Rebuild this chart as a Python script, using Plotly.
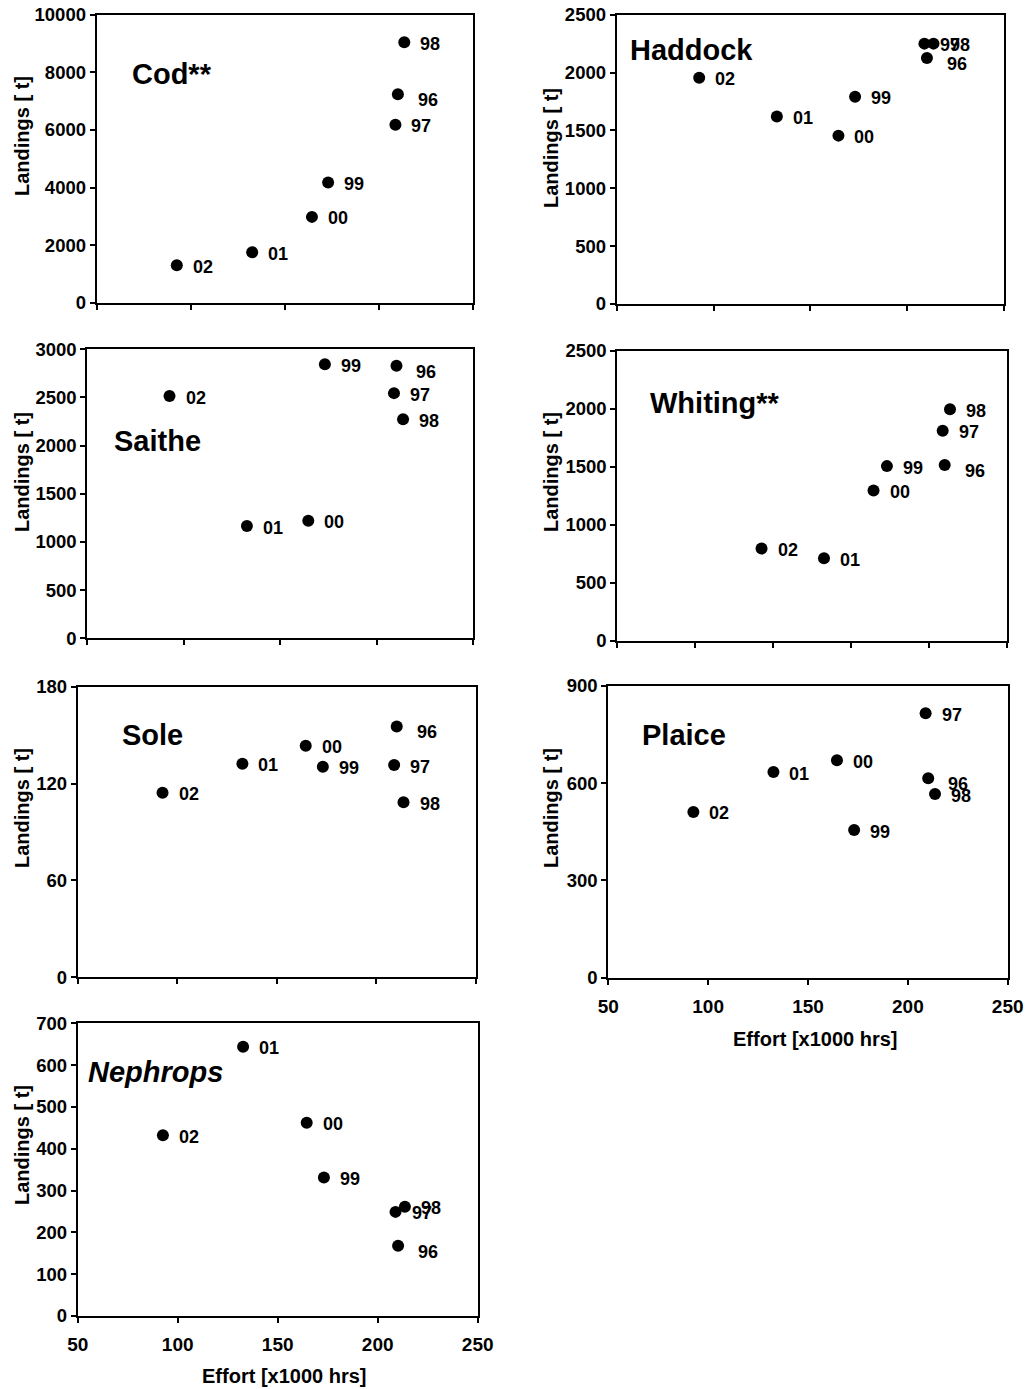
import plotly.graph_objects as go

# ---------------- data ----------------
years = ["96", "97", "98", "99", "00", "01", "02"]
effort = [210.2, 208.9, 213.6, 173.1, 164.5, 132.7, 92.6]   # x1000 hrs

cod = [7240, 6180, 9040, 4170, 2980, 1750, 1300]
haddock = [2125, 2250, 2250, 1790, 1455, 1620, 1955]
saithe = [2830, 2545, 2275, 2845, 1220, 1165, 2515]
whiting = [1515, 1810, 1995, 1505, 1295, 710, 795]
sole = [155.4, 131.5, 108.4, 130.4, 143.4, 132.3, 114.3]
plaice = [615, 815, 566, 455, 670, 634, 511]
nephrops = [168, 249, 261, 331, 462, 644, 432]

species = ["Cod**", "Haddock", "Saithe", "Whiting**", "Sole", "Plaice", "Nephrops"]
landings = [cod, haddock, saithe, whiting, sole, plaice, nephrops]

y_max = [10000, 2500, 3000, 2500, 180, 900, 700]
y_step = [2000, 500, 500, 500, 60, 300, 100]
x_min = [50, 50, 50, 0, 50, 50, 50]
x_max = [250, 250, 250, 250, 250, 250, 250]
x_step = 50

x_title = "Effort [x1000 hrs]"
y_title = "Landings [ t]"

# ---------------- layout (pixels) ----------------
W, H = 1033, 1389
FONT = "Liberation Sans, Arial, Helvetica, sans-serif"

# plot-area boxes: left, right, top, bottom
boxes = [
    (96.7, 472.7, 14.7, 302.7),
    (616.7, 1004.0, 14.7, 304.0),
    (87.3, 473.3, 349.3, 638.3),
    (617.3, 1006.7, 350.7, 640.7),
    (77.7, 476.0, 686.7, 977.3),
    (608.3, 1007.7, 685.7, 977.7),
    (77.7, 477.7, 1023.3, 1316.0),
]
# species title: left x, middle y
title_pos = [
    (130, 74), (628, 50), (112, 441), (648, 403),
    (120, 735), (640, 735), (86, 1072),
]
# y-axis title centers
ytitle_pos = [
    (22, 136), (551, 148), (22, 472), (551, 472),
    (22, 808), (551, 808), (22, 1145),
]
# x-axis title centers (only bottom panels)
xtitle_pos = {5: (815, 1039), 6: (284, 1376)}
show_xlabels = {5, 6}


def px(x):
    return x / W


def py(y):
    return 1 - y / H


fig = go.Figure()
annotations = []

for i, (name, vals) in enumerate(zip(species, landings)):
    sfx = "" if i == 0 else str(i + 1)
    xa, ya = "x" + sfx, "y" + sfx
    l, r, t, b = boxes[i]

    fig.add_trace(go.Scatter(
        x=effort, y=vals, mode="markers",
        marker=dict(size=12, color="black", line=dict(width=0)),
        xaxis=xa, yaxis=ya, showlegend=False, hoverinfo="skip",
    ))

    axis_common = dict(
        showline=True, linecolor="black", linewidth=2, mirror=True,
        ticks="outside", ticklen=5, tickwidth=1.5, tickcolor="black",
        showgrid=False, zeroline=False, automargin=False,
        tickformat="d",
    )
    fig.layout["xaxis" + sfx] = dict(
        axis_common,
        domain=[px(l), px(r)], anchor=ya,
        range=[x_min[i], x_max[i]], tickmode="linear", tick0=x_min[i], dtick=x_step,
        showticklabels=(i in show_xlabels), ticklabelstandoff=5,
        tickfont=dict(family=FONT, size=19, color="black", weight="bold"),
    )
    fig.layout["yaxis" + sfx] = dict(
        axis_common,
        domain=[py(b), py(t)], anchor=xa,
        range=[0, y_max[i]], tickmode="linear", tick0=0, dtick=y_step[i],
        tickfont=dict(family=FONT, size=18.5, color="black", weight="bold"),
    )

    # point labels
    for yr, xv, yv in zip(years, effort, vals):
        dx, dy = (18, -6) if yr == "96" else (14, -1.5)
        annotations.append(dict(
            x=xv, y=yv, xref=xa, yref=ya, text=yr, showarrow=False,
            xanchor="left", yanchor="middle", xshift=dx, yshift=dy,
            font=dict(family=FONT, size=18, color="black", weight="bold"),
        ))

    # species title
    tx, ty = title_pos[i]
    annotations.append(dict(
        x=px(tx), y=py(ty), xref="paper", yref="paper", text=name,
        showarrow=False, xanchor="left", yanchor="middle",
        font=dict(family=FONT, size=29, color="black", weight="bold",
                  style="italic" if name == "Nephrops" else "normal"),
    ))

    # y title
    yx, yy = ytitle_pos[i]
    annotations.append(dict(
        x=px(yx), y=py(yy), xref="paper", yref="paper", text=y_title,
        showarrow=False, xanchor="center", yanchor="middle", textangle=-90,
        font=dict(family=FONT, size=20, color="black", weight="bold"),
    ))

    if i in xtitle_pos:
        xx, xy = xtitle_pos[i]
        annotations.append(dict(
            x=px(xx), y=py(xy), xref="paper", yref="paper", text=x_title,
            showarrow=False, xanchor="center", yanchor="middle",
            font=dict(family=FONT, size=20, color="black", weight="bold"),
        ))

fig.update_layout(
    template="none",
    width=W, height=H,
    margin=dict(l=0, r=0, t=0, b=0, pad=0),
    paper_bgcolor="white", plot_bgcolor="white",
    annotations=annotations,
    showlegend=False,
)

fig.write_html("out.html", config={"displayModeBar": False})
